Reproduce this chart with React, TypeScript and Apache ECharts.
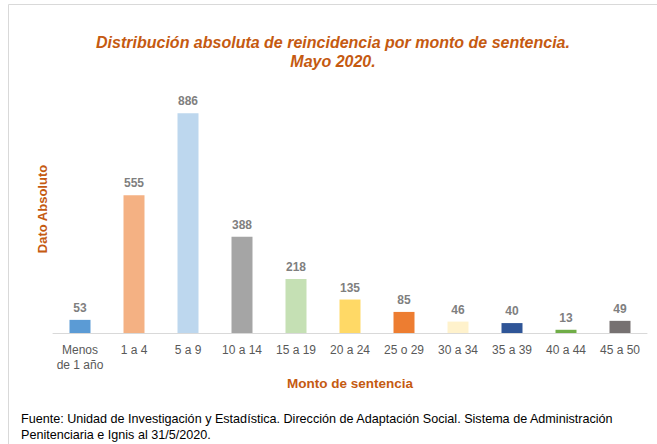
import React, { useEffect, useRef } from "react";
import * as echarts from "echarts";

const categories = [
  "Menos\nde 1 año",
  "1 a 4",
  "5 a 9",
  "10 a 14",
  "15 a 19",
  "20 a 24",
  "25 o 29",
  "30 a 34",
  "35 a 39",
  "40 a 44",
  "45 a 50",
];
const values = [53, 555, 886, 388, 218, 135, 85, 46, 40, 13, 49];
const barColors = [
  "#5B9BD5",
  "#F4B183",
  "#BDD7EE",
  "#A5A5A5",
  "#C5E0B4",
  "#FFD966",
  "#ED7D31",
  "#FFF2CC",
  "#2F5597",
  "#70AD47",
  "#767171",
];
const titleLines = [
  "Distribución absoluta de reincidencia por monto de sentencia.",
  "Mayo 2020.",
];
const footnoteLines = [
  "Fuente: Unidad de Investigación y Estadística. Dirección de Adaptación Social. Sistema de Administración",
  "Penitenciaria e Ignis al 31/5/2020.",
];
const xAxisName = "Monto de sentencia";
const yAxisName = "Dato Absoluto";

const FONT = "'Liberation Sans', 'DejaVu Sans', sans-serif";
const ORANGE = "#C55A11";

export default function App() {
  const ref = useRef<HTMLDivElement>(null);
  useEffect(() => {
    if (!ref.current) return;
    const chart = echarts.init(ref.current, null, { renderer: "svg" });
    chart.setOption({
      animation: false,
      backgroundColor: "#FFFFFF",
      textStyle: { fontFamily: FONT },
      grid: { left: 53, right: 10, top: 85, bottom: 111 },
      xAxis: {
        type: "category",
        data: categories,
        name: xAxisName,
        nameLocation: "middle",
        nameGap: 41,
        nameTextStyle: { color: ORANGE, fontWeight: "bold", fontSize: 13.5, fontFamily: FONT },
        axisLine: { lineStyle: { color: "#D9D9D9", width: 1 } },
        axisTick: { show: false },
        axisLabel: {
          color: "#595959",
          fontSize: 12,
          lineHeight: 15,
          margin: 9,
          interval: 0,
          fontFamily: FONT,
        },
      },
      yAxis: {
        type: "value",
        min: 0,
        max: 1000,
        name: yAxisName,
        nameLocation: "middle",
        nameGap: 4,
        nameRotate: 90,
        nameTextStyle: { color: ORANGE, fontWeight: "bold", fontSize: 13, fontFamily: FONT },
        axisLine: { show: false },
        axisTick: { show: false },
        axisLabel: { show: false },
        splitLine: { show: false },
      },
      series: [
        {
          type: "bar",
          barWidth: 21,
          data: values.map((v, i) => ({ value: v, itemStyle: { color: barColors[i] } })),
          label: {
            show: true,
            position: "top",
            distance: 6,
            color: "#7F7F7F",
            fontWeight: "bold",
            fontSize: 12,
            fontFamily: FONT,
          },
        },
      ],
      graphic: [
        {
          type: "rect",
          shape: { x: 8.5, y: 4.5, width: 700, height: 500 },
          style: { fill: "none", stroke: "#D9D9D9", lineWidth: 1 },
          silent: true,
        },
        ...titleLines.map((t, i) => ({
          type: "text",
          x: 333,
          y: 42 + i * 19,
          style: {
            text: t,
            fill: ORANGE,
            font: `italic bold 16px ${FONT}`,
            textAlign: "center",
            textVerticalAlign: "middle",
          },
        })),
        ...footnoteLines.map((t, i) => ({
          type: "text",
          x: 21,
          y: 419 + i * 16,
          style: {
            text: t,
            fill: "#000000",
            font: `12.6px ${FONT}`,
            textAlign: "left",
            textVerticalAlign: "middle",
          },
        })),
      ],
    });
    return () => chart.dispose();
  }, []);
  return (
    <div
      ref={ref}
      style={{ position: "fixed", left: 0, top: 0, width: 657, height: 444 }}
    />
  );
}
